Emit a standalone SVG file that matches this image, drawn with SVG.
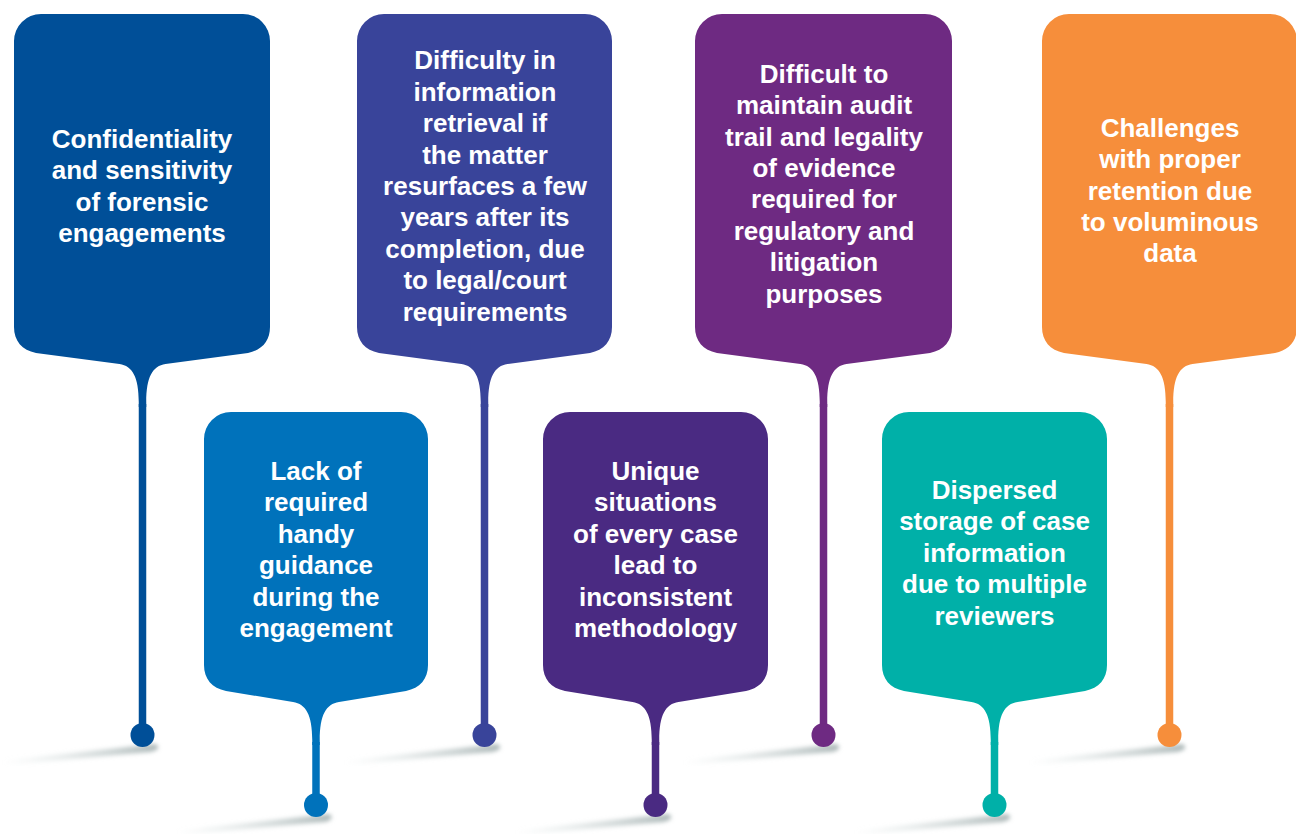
<svg xmlns="http://www.w3.org/2000/svg" width="1296" height="834" viewBox="0 0 1296 834">
<style>
.t{font-family:"Liberation Sans",Arial,Helvetica,sans-serif;font-weight:bold;font-size:26px;fill:#ffffff;text-anchor:middle}
.stem{stroke-width:7.5;fill:none}
.c1{fill:#004f98}.s1{stroke:#004f98}
.c2{fill:#0072bb}.s2{stroke:#0072bb}
.c3{fill:#39449a}.s3{stroke:#39449a}
.c4{fill:#4a2a82}.s4{stroke:#4a2a82}
.c5{fill:#6e2a82}.s5{stroke:#6e2a82}
.c6{fill:#00b0a8}.s6{stroke:#00b0a8}
.c7{fill:#f68e3b}.s7{stroke:#f68e3b}
</style>
<defs>
<linearGradient id="shg" x1="1" y1="0" x2="0" y2="0">
<stop offset="0" stop-color="#a9b5b5" stop-opacity="0.95"/>
<stop offset="0.35" stop-color="#bfc9c9" stop-opacity="0.7"/>
<stop offset="1" stop-color="#d6dddd" stop-opacity="0"/>
</linearGradient>
<filter id="blur" x="-20%" y="-100%" width="140%" height="300%">
<feGaussianBlur stdDeviation="2"/>
</filter>
<path id="shadow" d="M-140,27.5 L-136,25 L12,9 C17,10 18,15 8,17 L-136,30 Z" fill="url(#shg)" filter="url(#blur)"/>
</defs>
<rect width="1296" height="834" fill="#ffffff"/>
<g id="shadows">
<use href="#shadow" x="142.5" y="735"/>
<use href="#shadow" x="316" y="805"/>
<use href="#shadow" x="484.5" y="735"/>
<use href="#shadow" x="655.5" y="805"/>
<use href="#shadow" x="823.5" y="735"/>
<use href="#shadow" x="994.5" y="805"/>
<use href="#shadow" x="1169.5" y="735"/>
</g>
<g id="connectors">
<line class="stem s1" x1="142.5" y1="404" x2="142.5" y2="735"/><circle class="c1" cx="142.5" cy="735" r="12"/>
<line class="stem s2" x1="316" y1="742" x2="316" y2="805"/><circle class="c2" cx="316" cy="805" r="12"/>
<line class="stem s3" x1="484.5" y1="404" x2="484.5" y2="735"/><circle class="c3" cx="484.5" cy="735" r="12"/>
<line class="stem s4" x1="655.5" y1="742" x2="655.5" y2="805"/><circle class="c4" cx="655.5" cy="805" r="12"/>
<line class="stem s5" x1="823.5" y1="404" x2="823.5" y2="735"/><circle class="c5" cx="823.5" cy="735" r="12"/>
<line class="stem s6" x1="994.5" y1="742" x2="994.5" y2="805"/><circle class="c6" cx="994.5" cy="805" r="12"/>
<line class="stem s7" x1="1169.5" y1="404" x2="1169.5" y2="735"/><circle class="c7" cx="1169.5" cy="735" r="12"/>
</g>
<g id="node1">
<path class="c1" d="M41,14 H243 A27,27 0 0 1 270,41 V327 C270,341 262,350 248,353 L165.5,364 C152.5,366 146.25,377 146.25,402 V407 H138.75 V402 C138.75,377 132.5,366 119.5,364 L36,353 C22,350 14,341 14,327 V41 A27,27 0 0 1 41,14 Z"/>
<text class="t"><tspan x="142" y="147.7">Confidentiality</tspan><tspan x="142" y="179.1">and sensitivity</tspan><tspan x="142" y="210.5">of forensic</tspan><tspan x="142" y="241.9">engagements</tspan></text>
</g>
<g id="node2">
<path class="c2" d="M231,412 H401 A27,27 0 0 1 428,439 V665 C428,679 420,688 406,691 L339,702 C326,704 319.75,715 319.75,740 V745 H312.25 V740 C312.25,715 306,704 293,702 L226,691 C212,688 204,679 204,665 V439 A27,27 0 0 1 231,412 Z"/>
<text class="t"><tspan x="316" y="480">Lack of</tspan><tspan x="316" y="511.4">required</tspan><tspan x="316" y="542.8">handy</tspan><tspan x="316" y="574.2">guidance</tspan><tspan x="316" y="605.6">during the</tspan><tspan x="316" y="637">engagement</tspan></text>
</g>
<g id="node3">
<path class="c3" d="M384,14 H585 A27,27 0 0 1 612,41 V327 C612,341 604,350 590,353 L507.5,364 C494.5,366 488.25,377 488.25,402 V407 H480.75 V402 C480.75,377 474.5,366 461.5,364 L379,353 C365,350 357,341 357,327 V41 A27,27 0 0 1 384,14 Z"/>
<text class="t"><tspan x="485" y="69.3">Difficulty in</tspan><tspan x="485" y="100.7">information</tspan><tspan x="485" y="132.1">retrieval if</tspan><tspan x="485" y="163.5">the matter</tspan><tspan x="485" y="194.9">resurfaces a few</tspan><tspan x="485" y="226.3">years after its</tspan><tspan x="485" y="257.7">completion, due</tspan><tspan x="485" y="289.1">to legal/court</tspan><tspan x="485" y="320.5">requirements</tspan></text>
</g>
<g id="node4">
<path class="c4" d="M570,412 H741 A27,27 0 0 1 768,439 V665 C768,679 760,688 746,691 L678.5,702 C665.5,704 659.25,715 659.25,740 V745 H651.75 V740 C651.75,715 645.5,704 632.5,702 L565,691 C551,688 543,679 543,665 V439 A27,27 0 0 1 570,412 Z"/>
<text class="t"><tspan x="655.5" y="480">Unique</tspan><tspan x="655.5" y="511.4">situations</tspan><tspan x="655.5" y="542.8">of every case</tspan><tspan x="655.5" y="574.2">lead to</tspan><tspan x="655.5" y="605.6">inconsistent</tspan><tspan x="655.5" y="637">methodology</tspan></text>
</g>
<g id="node5">
<path class="c5" d="M722,14 H925 A27,27 0 0 1 952,41 V327 C952,341 944,350 930,353 L846.5,364 C833.5,366 827.25,377 827.25,402 V407 H819.75 V402 C819.75,377 813.5,366 800.5,364 L717,353 C703,350 695,341 695,327 V41 A27,27 0 0 1 722,14 Z"/>
<text class="t"><tspan x="824" y="82.7">Difficult to</tspan><tspan x="824" y="114.1">maintain audit</tspan><tspan x="824" y="145.5">trail and legality</tspan><tspan x="824" y="176.9">of evidence</tspan><tspan x="824" y="208.3">required for</tspan><tspan x="824" y="239.7">regulatory and</tspan><tspan x="824" y="271.1">litigation</tspan><tspan x="824" y="302.5">purposes</tspan></text>
</g>
<g id="node6">
<path class="c6" d="M909,412 H1080 A27,27 0 0 1 1107,439 V665 C1107,679 1099,688 1085,691 L1017.5,702 C1004.5,704 998.25,715 998.25,740 V745 H990.75 V740 C990.75,715 984.5,704 971.5,702 L904,691 C890,688 882,679 882,665 V439 A27,27 0 0 1 909,412 Z"/>
<text class="t"><tspan x="994.5" y="499">Dispersed</tspan><tspan x="994.5" y="530.4">storage of case</tspan><tspan x="994.5" y="561.8">information</tspan><tspan x="994.5" y="593.2">due to multiple</tspan><tspan x="994.5" y="624.6">reviewers</tspan></text>
</g>
<g id="node7">
<path class="c7" d="M1069,14 H1270 A27,27 0 0 1 1297,41 V327 C1297,341 1289,350 1275,353 L1192.5,364 C1179.5,366 1173.25,377 1173.25,402 V407 H1165.75 V402 C1165.75,377 1159.5,366 1146.5,364 L1064,353 C1050,350 1042,341 1042,327 V41 A27,27 0 0 1 1069,14 Z"/>
<text class="t"><tspan x="1170" y="136.7">Challenges</tspan><tspan x="1170" y="168.1">with proper</tspan><tspan x="1170" y="199.5">retention due</tspan><tspan x="1170" y="230.9">to voluminous</tspan><tspan x="1170" y="262.3">data</tspan></text>
</g>
</svg>
